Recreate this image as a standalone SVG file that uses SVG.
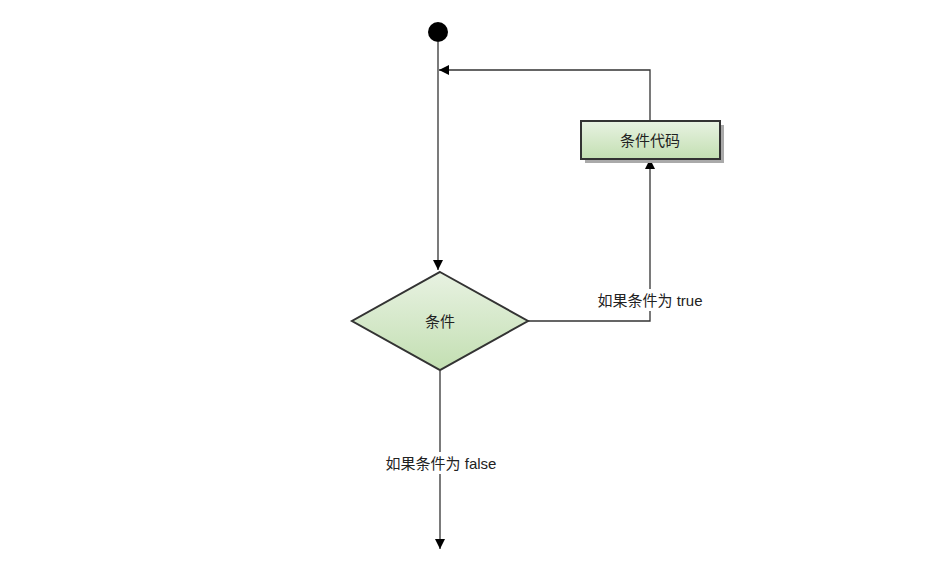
<svg xmlns="http://www.w3.org/2000/svg" width="931" height="584" viewBox="0 0 931 584">
<style>
.ln{fill:none;stroke:#333;stroke-width:1.3}
.shape{stroke:#333;stroke-width:2}
.t{font-family:"Liberation Sans","Noto Sans CJK SC",sans-serif;font-size:15px;fill:#222;text-anchor:middle;dominant-baseline:central}
.lbl{font-family:"Liberation Sans","Noto Sans CJK SC",sans-serif;font-size:15px;fill:#222;text-anchor:middle;dominant-baseline:central}
</style>
<defs>
<linearGradient id="g" x1="0" y1="0" x2="0" y2="1">
<stop offset="0" stop-color="#e8f2e2"/>
<stop offset="1" stop-color="#c3dfb2"/>
</linearGradient>
<marker id="a" viewBox="0 0 10 10" refX="10" refY="5" markerWidth="10" markerHeight="10" markerUnits="userSpaceOnUse" orient="auto">
<path d="M0,0 L10,5 L0,10 z" fill="#000"/>
</marker>
</defs>
<rect width="931" height="584" fill="#fff"/>
<g id="connectors">
<path class="ln" d="M438,42 V270" marker-end="url(#a)"/>
<path class="ln" d="M650,121 V70 H439" marker-end="url(#a)"/>
<path class="ln" d="M528,321 H650 V159" marker-end="url(#a)"/>
<path class="ln" d="M440,371 V549" marker-end="url(#a)"/>
<rect x="594" y="289" width="112" height="22" fill="#fff"/>
<text class="lbl" x="650" y="300">如果条件为 true</text>
<rect x="382" y="452" width="118" height="22" fill="#fff"/>
<text class="lbl" x="441" y="463">如果条件为 false</text>
</g>
<g id="start">
<circle cx="438" cy="32" r="10" fill="#000"/>
</g>
<g id="code">
<rect x="585" y="125" width="139" height="38" fill="#aaa"/>
<rect x="581" y="121" width="139" height="38" fill="url(#g)" class="shape"/>
<text class="t" x="650" y="140">条件代码</text>
</g>
<g id="cond">
<polygon points="440,272 528,321 440,370 352,321" fill="url(#g)" class="shape"/>
<text class="t" x="440" y="321">条件</text>
</g>
</svg>
